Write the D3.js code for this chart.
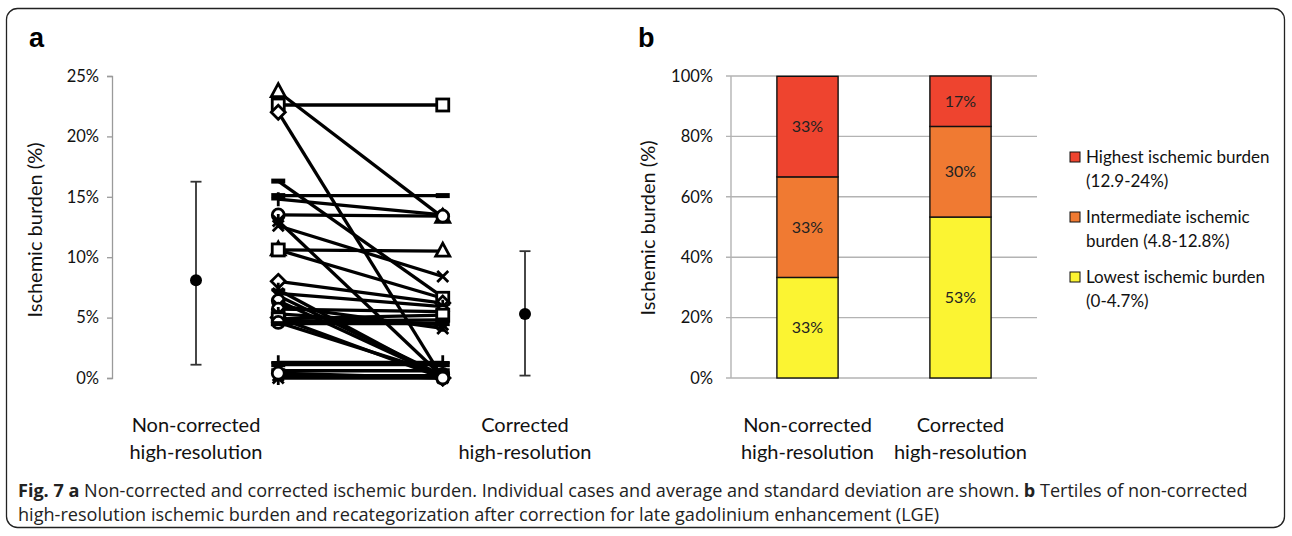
<!DOCTYPE html>
<html>
<head>
<meta charset="utf-8">
<script src="https://cdn.jsdelivr.net/npm/d3@7"></script>
<style>
  html, body { margin: 0; padding: 0; background: #fff; }
  svg { display: block; }
</style>
</head>
<body>
<svg id="chart" width="1292" height="536"></svg>
<script>
// ---------- DATA ----------
// Panel a: individual cases (ischemic burden, fraction)
const nonCorrected = [0.237, 0.226, 0.220, 0.163, 0.151, 0.148, 0.135, 0.130, 0.126, 0.106,
                      0.106, 0.080, 0.073, 0.070, 0.068, 0.064, 0.060, 0.057, 0.053, 0.050,
                      0.049, 0.047, 0.046, 0.045, 0.013, 0.011, 0.006, 0.002, 0.000, 0.004];
const corrected    = [0.133, 0.226, 0.000, 0.067, 0.151, 0.135, 0.134, 0.001, 0.084, 0.105,
                      0.066, 0.062, 0.000, 0.059, 0.002, 0.001, 0.041, 0.055, 0.044, 0.000,
                      0.052, 0.048, 0.003, 0.045, 0.013, 0.011, 0.006, 0.002, 0.000, 0.000];
const caseMarkers  = ["triangle","square","diamond","dash","dash","plus","circle","star","x","triangle",
                      "square","diamond","plus","star","x","circle","x","circle","star","diamond",
                      "square","dash","circle","dash","plus","dash","dash","x","star","circle"];
// Panel a: mean and standard deviation range
const groupLabels = [["Non-corrected", "high-resolution"], ["Corrected", "high-resolution"]];
const groupMean = [0.081, 0.053];
const groupLow  = [0.011, 0.002];
const groupHigh = [0.1625, 0.105];
const aTicks = [0, 0.05, 0.10, 0.15, 0.20, 0.25];

// Panel b: tertiles
const barCategories = [["Non-corrected", "high-resolution"], ["Corrected", "high-resolution"]];
const tertileNames = ["Lowest", "Intermediate", "Highest"];
const lowest       = [33.3, 53.3];
const intermediate = [33.3, 30.0];
const highest      = [33.3, 16.7];
const segmentLabels = [["33%", "53%"], ["33%", "30%"], ["33%", "17%"]];
const legendLabels = [["Highest ischemic burden", "(12.9-24%)"],
                      ["Intermediate ischemic", "burden (4.8-12.8%)"],
                      ["Lowest ischemic burden", "(0-4.7%)"]];
const bTicks = [0, 20, 40, 60, 80, 100];

const caption1 = [["Fig. 7", true], [" a", true], [" Non-corrected and corrected ischemic burden. Individual cases and average and standard deviation are shown. ", false], ["b", true], [" Tertiles of non-corrected", false]];
const caption2 = "high-resolution ischemic burden and recategorization after correction for late gadolinium enhancement (LGE)";

// ---------- DRAW ----------
const svg = d3.select("#chart");
const FONT = "Lato, 'Open Sans', sans-serif";
const LBL = 20;   // axis titles & category labels
const TCK = 16.5; // tick labels

// frame
svg.append("rect").attr("x", 6.5).attr("y", 8.5).attr("width", 1278).attr("height", 519)
  .attr("rx", 11).attr("fill", "none").attr("stroke", "#222").attr("stroke-width", 1.3);

// panel letters
svg.append("text").attr("x", 29).attr("y", 47).text("a")
  .attr("font-family", "Arial, 'Liberation Sans', sans-serif").attr("font-weight", "bold").attr("font-size", 27);
svg.append("text").attr("x", 638).attr("y", 47).text("b")
  .attr("font-family", "Arial, 'Liberation Sans', sans-serif").attr("font-weight", "bold").attr("font-size", 27);

// ---------- Panel a ----------
const yA = d3.scaleLinear().domain([0, 0.25]).range([378, 76]);
const xA = d3.scaleLinear().domain([0, 4]).range([196, 525]); // 0: mean non-corr, 1: indiv non-corr, 3: indiv corr, 4: mean corr

const axA = svg.append("g").attr("transform", "translate(112,0)")
  .call(d3.axisLeft(yA).tickValues(aTicks).tickFormat(d3.format(".0%")).tickSize(5).tickPadding(8));
axA.select(".domain").attr("stroke", "#9a9a9a").attr("stroke-width", 1.3);
axA.selectAll(".tick line").attr("stroke", "#9a9a9a").attr("stroke-width", 1.3);
axA.selectAll("text").attr("font-family", FONT).attr("font-size", TCK).attr("fill", "#111");

svg.append("text").attr("transform", "translate(42,230) rotate(-90)")
  .attr("text-anchor", "middle").attr("font-family", FONT).attr("font-size", LBL).attr("fill", "#111")
  .text("Ischemic burden (%)");

// individual lines
const cases = nonCorrected.map((v, i) => ({ a: v, b: corrected[i], m: caseMarkers[i] }));
svg.append("g").selectAll("line").data(cases).join("line")
  .attr("x1", xA(1)).attr("x2", xA(3))
  .attr("y1", d => yA(d.a)).attr("y2", d => yA(d.b))
  .attr("stroke", "#000").attr("stroke-width", 3.3);

function drawMarker(g, type) {
  const sw = 2.8;
  if (type === "square") {
    g.append("rect").attr("x", -6).attr("y", -6).attr("width", 12).attr("height", 12)
      .attr("fill", "#fff").attr("stroke", "#000").attr("stroke-width", sw);
  } else if (type === "triangle") {
    g.append("path").attr("d", "M0,-8L7,5L-7,5Z").attr("fill", "#fff").attr("stroke", "#000").attr("stroke-width", sw);
  } else if (type === "diamond") {
    g.append("path").attr("d", "M0,-7L7,0L0,7L-7,0Z").attr("fill", "#fff").attr("stroke", "#000").attr("stroke-width", sw);
  } else if (type === "circle") {
    g.append("circle").attr("r", 6).attr("fill", "#fff").attr("stroke", "#000").attr("stroke-width", sw);
  } else if (type === "x") {
    g.append("path").attr("d", "M-5.5,-5.5L5.5,5.5M-5.5,5.5L5.5,-5.5").attr("stroke", "#000").attr("stroke-width", sw);
  } else if (type === "star") {
    g.append("path").attr("d", "M-5.5,-5.5L5.5,5.5M-5.5,5.5L5.5,-5.5M0,-7L0,7").attr("stroke", "#000").attr("stroke-width", sw);
  } else if (type === "plus") {
    g.append("path").attr("d", "M-7,0L7,0M0,-7L0,7").attr("stroke", "#000").attr("stroke-width", sw);
  } else if (type === "dash") {
    g.append("rect").attr("x", -7).attr("y", -2.5).attr("width", 14).attr("height", 5).attr("fill", "#000");
  }
}
const mk = svg.append("g");
cases.forEach(d => {
  drawMarker(mk.append("g").attr("transform", `translate(${xA(1)},${yA(d.a)})`), d.m);
  drawMarker(mk.append("g").attr("transform", `translate(${xA(3)},${yA(d.b)})`), d.m);
});

// mean ± SD
const groupPos = [0, 4];
const eb = svg.append("g");
groupPos.forEach((p, i) => {
  const x = xA(p);
  eb.append("line").attr("x1", x).attr("x2", x).attr("y1", yA(groupLow[i])).attr("y2", yA(groupHigh[i]))
    .attr("stroke", "#333").attr("stroke-width", 1.8);
  [groupLow[i], groupHigh[i]].forEach(v => {
    eb.append("line").attr("x1", x - 5.5).attr("x2", x + 5.5).attr("y1", yA(v)).attr("y2", yA(v))
      .attr("stroke", "#333").attr("stroke-width", 1.8);
  });
  eb.append("circle").attr("cx", x).attr("cy", yA(groupMean[i])).attr("r", 6).attr("fill", "#000");
  const t = svg.append("text").attr("text-anchor", "middle").attr("font-family", FONT)
    .attr("font-size", LBL).attr("fill", "#111");
  groupLabels[i].forEach((s, j) => t.append("tspan").attr("x", x).attr("y", 432 + j * 27).text(s));
});

// ---------- Panel b ----------
const yB = d3.scaleLinear().domain([0, 100]).range([378, 76]);
const xB = d3.scaleBand().domain(d3.range(barCategories.length)).range([731, 1037]).paddingInner(0.6).paddingOuter(0.3);

const grid = svg.append("g");
grid.selectAll("line").data(bTicks).join("line")
  .attr("x1", 726).attr("x2", 1037).attr("y1", d => yB(d)).attr("y2", d => yB(d))
  .attr("stroke", "#b3b3b3").attr("stroke-width", 1.4);
grid.append("line").attr("x1", 731).attr("x2", 731).attr("y1", yB(0)).attr("y2", yB(100))
  .attr("stroke", "#b3b3b3").attr("stroke-width", 1.4);
svg.append("g").selectAll("text").data(bTicks).join("text")
  .attr("x", 713).attr("y", d => yB(d)).attr("dy", "0.35em").attr("text-anchor", "end")
  .attr("font-family", FONT).attr("font-size", TCK).attr("fill", "#111")
  .text(d => d + "%");

svg.append("text").attr("transform", "translate(655,228) rotate(-90)")
  .attr("text-anchor", "middle").attr("font-family", FONT).attr("font-size", LBL).attr("fill", "#111")
  .text("Ischemic burden (%)");

const colors = ["#FBF432", "#F07A32", "#EE442F"];
const stackData = barCategories.map((c, i) => ({ i, lowest: lowest[i], intermediate: intermediate[i], highest: highest[i] }));
const stack = d3.stack().keys(["lowest", "intermediate", "highest"])(stackData);
stack.forEach((layer, k) => {
  const g = svg.append("g");
  g.selectAll("rect").data(layer).join("rect")
    .attr("x", d => xB(d.data.i)).attr("width", xB.bandwidth())
    .attr("y", d => yB(d[1])).attr("height", d => yB(d[0]) - yB(d[1]))
    .attr("fill", colors[k]).attr("stroke", "#111").attr("stroke-width", 1.4);
  g.selectAll("text").data(layer).join("text")
    .attr("x", d => xB(d.data.i) + xB.bandwidth() / 2)
    .attr("y", d => yB((d[0] + d[1]) / 2)).attr("dy", "0.35em")
    .attr("text-anchor", "middle").attr("font-family", FONT).attr("font-size", 16).attr("fill", "#222")
    .text((d, i) => segmentLabels[k][i]);
});
barCategories.forEach((c, i) => {
  const t = svg.append("text").attr("text-anchor", "middle").attr("font-family", FONT)
    .attr("font-size", LBL).attr("fill", "#111");
  c.forEach((s, j) => t.append("tspan").attr("x", xB(i) + xB.bandwidth() / 2).attr("y", 432 + j * 27).text(s));
});

// legend
const legColors = [colors[2], colors[1], colors[0]];
legendLabels.forEach((lab, k) => {
  const y0 = 157 + k * 60;
  svg.append("rect").attr("x", 1070).attr("y", y0 - 5).attr("width", 10).attr("height", 10)
    .attr("fill", legColors[k]).attr("stroke", "#111").attr("stroke-width", 1);
  const t = svg.append("text").attr("font-family", FONT).attr("font-size", 17).attr("fill", "#111");
  lab.forEach((s, j) => t.append("tspan").attr("x", 1086).attr("y", y0 + 6 + j * 24).text(s));
});

// ---------- caption (horizontally condensed to the reference widths) ----------
const CAP = "'Open Sans', 'Noto Sans', sans-serif";
const CAPSIZE = 17.5;
function captionLine(parts, y, targetWidth) {
  const g = svg.append("g");
  const t = g.append("text").attr("x", 0).attr("y", 0).attr("font-family", CAP)
    .attr("font-size", CAPSIZE).attr("fill", "#222");
  parts.forEach(([s, b]) => t.append("tspan").attr("font-weight", b ? "bold" : "normal").text(s));
  const w = t.node().getComputedTextLength();
  g.attr("transform", `translate(18,${y}) scale(${targetWidth / w},1)`);
}
captionLine(caption1, 497, 1231);
captionLine([[caption2, false]], 521, 922);
</script>
</body>
</html>
